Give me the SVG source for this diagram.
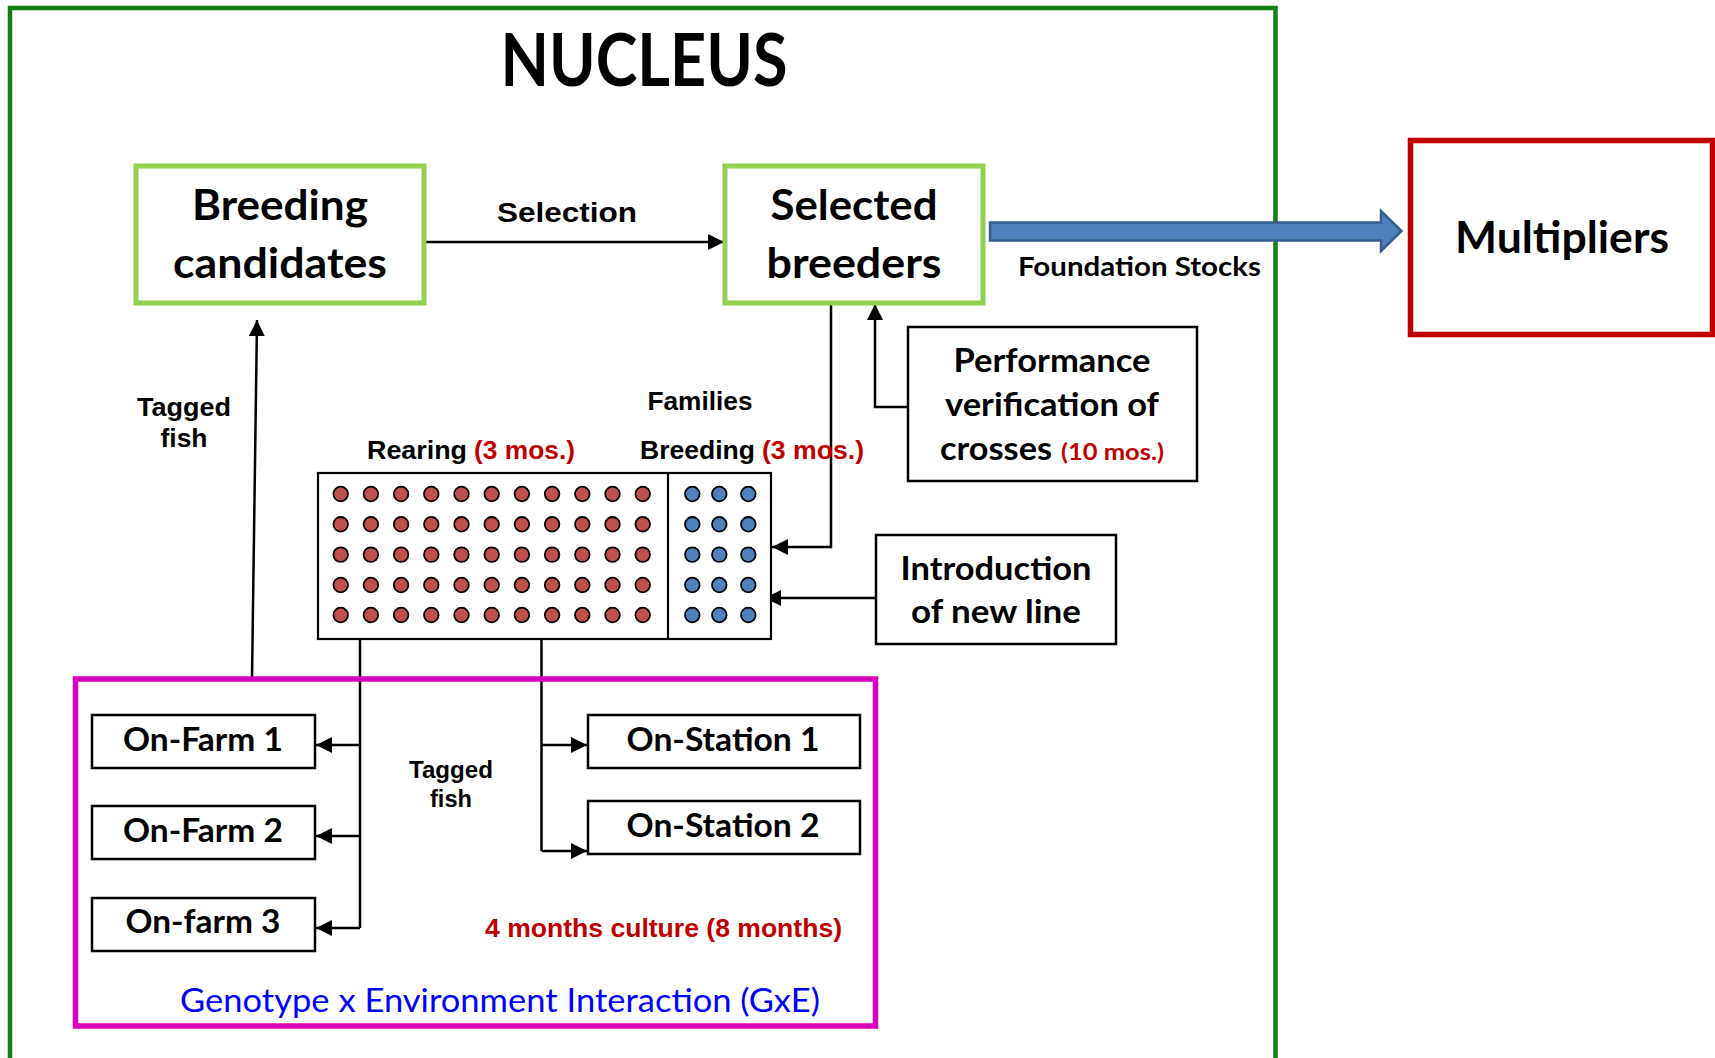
<svg xmlns="http://www.w3.org/2000/svg" width="1715" height="1058" viewBox="0 0 1715 1058">
<style>
.cal{font-family:Lato,"Open Sans","Noto Sans",sans-serif;font-weight:bold;fill:#000}
.nar{font-family:"Liberation Sans",Arial,sans-serif;font-weight:bold;fill:#000}
.red{fill:#C00000}
.box{fill:#fff;stroke:#000;stroke-width:2.5}
.gbox{fill:#fff;stroke:#92D050;stroke-width:5}
.ln{fill:none;stroke:#000;stroke-width:2.5}
.rd{fill:#C0504D;stroke:#000;stroke-width:1.8}
.bd{fill:#4F81BD;stroke:#000;stroke-width:1.8}
</style>
<defs>
<marker id="ah" viewBox="0 0 10 10" refX="10" refY="5" markerWidth="6.5" markerHeight="6.5" markerUnits="strokeWidth" orient="auto">
<path d="M0,0 L10,5 L0,10 z" fill="#000"/>
</marker>
</defs>
<rect width="1715" height="1058" fill="#fff"/>

<g id="nucleus-frame">
<path d="M10,1060 L10,8 L1275.5,8 L1275.5,1060" fill="none" stroke="#138013" stroke-width="4.5"/>
<text class="cal" x="644" y="86" font-size="72" text-anchor="middle" textLength="287" lengthAdjust="spacingAndGlyphs">NUCLEUS</text>
</g>

<g id="connectors">
<path class="ln" d="M424,242 L724,242" marker-end="url(#ah)"/>
<path class="ln" d="M252,678 L257,320" marker-end="url(#ah)"/>
<path class="ln" d="M908,407 L875,407 L875,304" marker-end="url(#ah)"/>
<path class="ln" d="M831,304 L831,547 L772,547" marker-end="url(#ah)"/>
<path class="ln" d="M876,598 L765,598" marker-end="url(#ah)"/>
<path class="ln" d="M360,639 L360,928"/>
<path class="ln" d="M360,745 L316,745" marker-end="url(#ah)"/>
<path class="ln" d="M360,836 L316,836" marker-end="url(#ah)"/>
<path class="ln" d="M360,928 L316,928" marker-end="url(#ah)"/>
<path class="ln" d="M541.5,639 L541.5,851"/>
<path class="ln" d="M541.5,745 L587,745" marker-end="url(#ah)"/>
<path class="ln" d="M541.5,851 L587,851" marker-end="url(#ah)"/>
<text class="nar" x="567" y="222" font-size="28" text-anchor="middle" textLength="140" lengthAdjust="spacingAndGlyphs">Selection</text>
<text class="nar" x="184" y="416" font-size="25" text-anchor="middle" textLength="94" lengthAdjust="spacingAndGlyphs">Tagged</text>
<text class="nar" x="184" y="447" font-size="25" text-anchor="middle" textLength="47" lengthAdjust="spacingAndGlyphs">fish</text>
<text class="nar" x="451" y="778" font-size="23" text-anchor="middle" textLength="84" lengthAdjust="spacingAndGlyphs">Tagged</text>
<text class="nar" x="451" y="807" font-size="23" text-anchor="middle" textLength="42" lengthAdjust="spacingAndGlyphs">fish</text>
</g>

<g id="foundation-arrow">
<path d="M990,222.5 L1381,222.5 L1381,211 L1401.5,231 L1381,251 L1381,240.5 L990,240.5 z" fill="#4F81BD" stroke="#385D8A" stroke-width="2.5"/>
<text class="cal" x="1018" y="276" font-size="27" textLength="243" lengthAdjust="spacingAndGlyphs">Foundation Stocks</text>
</g>

<g id="breeding-candidates">
<rect class="gbox" x="136" y="166" width="288" height="137"/>
<text class="cal" x="280" y="220" font-size="42" text-anchor="middle" textLength="176" lengthAdjust="spacingAndGlyphs">Breeding</text>
<text class="cal" x="280" y="278" font-size="42" text-anchor="middle" textLength="214" lengthAdjust="spacingAndGlyphs">candidates</text>
</g>

<g id="selected-breeders">
<rect class="gbox" x="725" y="166" width="258" height="137"/>
<text class="cal" x="854" y="220" font-size="42" text-anchor="middle" textLength="167" lengthAdjust="spacingAndGlyphs">Selected</text>
<text class="cal" x="854" y="278" font-size="42" text-anchor="middle" textLength="175" lengthAdjust="spacingAndGlyphs">breeders</text>
</g>

<g id="multipliers">
<rect x="1410.5" y="140.5" width="302" height="194" fill="#fff" stroke="#C00000" stroke-width="5.5"/>
<text class="cal" x="1562" y="253" font-size="44" text-anchor="middle" textLength="214" lengthAdjust="spacingAndGlyphs">Multipliers</text>
</g>

<g id="performance">
<rect class="box" x="908" y="327" width="289" height="154"/>
<text class="cal" x="1052" y="372" font-size="33" text-anchor="middle" textLength="197" lengthAdjust="spacingAndGlyphs">Performance</text>
<text class="cal" x="1052" y="416" font-size="33" text-anchor="middle" textLength="214" lengthAdjust="spacingAndGlyphs">verification of</text>
<text class="cal" x="940" y="460" font-size="33" textLength="112" lengthAdjust="spacingAndGlyphs">crosses</text>
<text class="cal red" x="1061" y="460" font-size="23" textLength="103" lengthAdjust="spacingAndGlyphs">(10 mos.)</text>
</g>

<g id="introduction">
<rect class="box" x="876" y="535" width="240" height="109"/>
<text class="cal" x="996" y="580" font-size="33" text-anchor="middle" textLength="191" lengthAdjust="spacingAndGlyphs">Introduction</text>
<text class="cal" x="996" y="623" font-size="33" text-anchor="middle" textLength="170" lengthAdjust="spacingAndGlyphs">of new line</text>
</g>

<g id="families">
<text class="nar" x="700" y="410" font-size="25" text-anchor="middle" textLength="105" lengthAdjust="spacingAndGlyphs">Families</text>
<text class="nar" x="367" y="459" font-size="26" textLength="100" lengthAdjust="spacingAndGlyphs">Rearing</text>
<text class="nar red" x="474" y="459" font-size="26" textLength="101" lengthAdjust="spacingAndGlyphs">(3 mos.)</text>
<text class="nar" x="640" y="459" font-size="26" textLength="115" lengthAdjust="spacingAndGlyphs">Breeding</text>
<text class="nar red" x="762" y="459" font-size="26" textLength="102" lengthAdjust="spacingAndGlyphs">(3 mos.)</text>
<rect x="318" y="473" width="453" height="166" fill="#fff" stroke="#000" stroke-width="2.2"/>
<line x1="668" y1="473" x2="668" y2="639" stroke="#000" stroke-width="2.2"/>
<g id="red-dots">
<g class="rd">
<circle cx="340.7" cy="494" r="7.3"/><circle cx="370.9" cy="494" r="7.3"/><circle cx="401.1" cy="494" r="7.3"/><circle cx="431.3" cy="494" r="7.3"/><circle cx="461.5" cy="494" r="7.3"/><circle cx="491.7" cy="494" r="7.3"/><circle cx="521.9" cy="494" r="7.3"/><circle cx="552.1" cy="494" r="7.3"/><circle cx="582.3" cy="494" r="7.3"/><circle cx="612.5" cy="494" r="7.3"/><circle cx="642.7" cy="494" r="7.3"/>
<circle cx="340.7" cy="524.3" r="7.3"/><circle cx="370.9" cy="524.3" r="7.3"/><circle cx="401.1" cy="524.3" r="7.3"/><circle cx="431.3" cy="524.3" r="7.3"/><circle cx="461.5" cy="524.3" r="7.3"/><circle cx="491.7" cy="524.3" r="7.3"/><circle cx="521.9" cy="524.3" r="7.3"/><circle cx="552.1" cy="524.3" r="7.3"/><circle cx="582.3" cy="524.3" r="7.3"/><circle cx="612.5" cy="524.3" r="7.3"/><circle cx="642.7" cy="524.3" r="7.3"/>
<circle cx="340.7" cy="554.6" r="7.3"/><circle cx="370.9" cy="554.6" r="7.3"/><circle cx="401.1" cy="554.6" r="7.3"/><circle cx="431.3" cy="554.6" r="7.3"/><circle cx="461.5" cy="554.6" r="7.3"/><circle cx="491.7" cy="554.6" r="7.3"/><circle cx="521.9" cy="554.6" r="7.3"/><circle cx="552.1" cy="554.6" r="7.3"/><circle cx="582.3" cy="554.6" r="7.3"/><circle cx="612.5" cy="554.6" r="7.3"/><circle cx="642.7" cy="554.6" r="7.3"/>
<circle cx="340.7" cy="585" r="7.3"/><circle cx="370.9" cy="585" r="7.3"/><circle cx="401.1" cy="585" r="7.3"/><circle cx="431.3" cy="585" r="7.3"/><circle cx="461.5" cy="585" r="7.3"/><circle cx="491.7" cy="585" r="7.3"/><circle cx="521.9" cy="585" r="7.3"/><circle cx="552.1" cy="585" r="7.3"/><circle cx="582.3" cy="585" r="7.3"/><circle cx="612.5" cy="585" r="7.3"/><circle cx="642.7" cy="585" r="7.3"/>
<circle cx="340.7" cy="615" r="7.3"/><circle cx="370.9" cy="615" r="7.3"/><circle cx="401.1" cy="615" r="7.3"/><circle cx="431.3" cy="615" r="7.3"/><circle cx="461.5" cy="615" r="7.3"/><circle cx="491.7" cy="615" r="7.3"/><circle cx="521.9" cy="615" r="7.3"/><circle cx="552.1" cy="615" r="7.3"/><circle cx="582.3" cy="615" r="7.3"/><circle cx="612.5" cy="615" r="7.3"/><circle cx="642.7" cy="615" r="7.3"/>
</g>
</g>
<g id="blue-dots">
<g class="bd">
<circle cx="692.3" cy="494" r="7.3"/><circle cx="719.3" cy="494" r="7.3"/><circle cx="748.3" cy="494" r="7.3"/>
<circle cx="692.3" cy="524.3" r="7.3"/><circle cx="719.3" cy="524.3" r="7.3"/><circle cx="748.3" cy="524.3" r="7.3"/>
<circle cx="692.3" cy="554.6" r="7.3"/><circle cx="719.3" cy="554.6" r="7.3"/><circle cx="748.3" cy="554.6" r="7.3"/>
<circle cx="692.3" cy="585" r="7.3"/><circle cx="719.3" cy="585" r="7.3"/><circle cx="748.3" cy="585" r="7.3"/>
<circle cx="692.3" cy="615" r="7.3"/><circle cx="719.3" cy="615" r="7.3"/><circle cx="748.3" cy="615" r="7.3"/>
</g>
</g>
</g>

<g id="gxe">
<rect x="75.5" y="679" width="800" height="347" fill="none" stroke="#D800B8" stroke-width="5.5"/>
<text class="nar red" x="485" y="937" font-size="26" textLength="357" lengthAdjust="spacingAndGlyphs">4 months culture (8 months)</text>
<text x="180" y="1012" font-family="Lato,'Open Sans','Noto Sans',sans-serif" font-size="33" fill="#0000FF" textLength="640" lengthAdjust="spacingAndGlyphs">Genotype x Environment Interaction (GxE)</text>
</g>

<g id="on-farm-1">
<rect class="box" x="92" y="715" width="223" height="53"/>
<text class="cal" x="203" y="751" font-size="32" text-anchor="middle" textLength="160" lengthAdjust="spacingAndGlyphs">On-Farm 1</text>
</g>
<g id="on-farm-2">
<rect class="box" x="92" y="806" width="223" height="53"/>
<text class="cal" x="203" y="842" font-size="32" text-anchor="middle" textLength="160" lengthAdjust="spacingAndGlyphs">On-Farm 2</text>
</g>
<g id="on-farm-3">
<rect class="box" x="92" y="898" width="223" height="53"/>
<text class="cal" x="203" y="933" font-size="32" text-anchor="middle" textLength="155" lengthAdjust="spacingAndGlyphs">On-farm 3</text>
</g>
<g id="on-station-1">
<rect class="box" x="588" y="715" width="272" height="53"/>
<text class="cal" x="723" y="751" font-size="32" text-anchor="middle" textLength="193" lengthAdjust="spacingAndGlyphs">On-Station 1</text>
</g>
<g id="on-station-2">
<rect class="box" x="588" y="801" width="272" height="53"/>
<text class="cal" x="723" y="837" font-size="32" text-anchor="middle" textLength="193" lengthAdjust="spacingAndGlyphs">On-Station 2</text>
</g>
</svg>
